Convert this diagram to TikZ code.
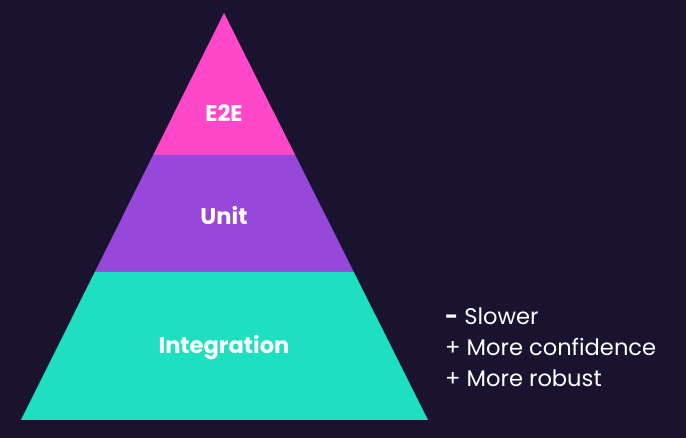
\documentclass[tikz,border=0pt]{standalone}
\usepackage{fontspec}
\usetikzlibrary{calc}
\setmainfont{Poppins}
\definecolor{bgdark}{HTML}{1A1330}
\definecolor{layerpink}{HTML}{FF48C9}
\definecolor{layerpurple}{HTML}{9747DA}
\definecolor{layerteal}{HTML}{1EDFC0}
\begin{document}
\begin{tikzpicture}[x=1pt,y=-1pt,
  layerlabel/.style={text=white,font=\fontsize{22.6}{27}\selectfont\bfseries,inner sep=0pt},
  notetext/.style={text=white,font=\fontsize{22.6}{27}\selectfont,anchor=west,inner sep=0pt}]
  \fill[bgdark] (0,0) rectangle (686,438);
  \useasboundingbox (0,0) rectangle (686,438);
  % pyramid corners
  \coordinate (apex) at (224,13);
  \coordinate (bl) at (21,420);
  \coordinate (br) at (428,420);
  % layer boundaries on the sides
  \coordinate (l1) at ($(apex)!{(155-13)/(420-13)}!(bl)$);
  \coordinate (r1) at ($(apex)!{(155-13)/(420-13)}!(br)$);
  \coordinate (l2) at ($(apex)!{(272-13)/(420-13)}!(bl)$);
  \coordinate (r2) at ($(apex)!{(272-13)/(420-13)}!(br)$);
  \fill[layerpink] (apex) -- (r1) -- (l1) -- cycle;
  \fill[layerpurple] (l1) -- (r1) -- (r2) -- (l2) -- cycle;
  \fill[layerteal] (l2) -- (r2) -- (br) -- (bl) -- cycle;
  % layer labels
  \node[layerlabel] (e2e) at (224,113) {E2E};
  \node[layerlabel] (unit) at (224,216) {Unit};
  \node[layerlabel] (integ) at (224,348) {Integration};
  % trade-off notes
  \node[notetext] (slow) at (445,316) {\textbf{-} Slower};
  \node[notetext] (conf) at (445,347) {+ More confidence};
  \node[notetext] (rob) at (445,378) {+ More robust};
\end{tikzpicture}
\end{document}
